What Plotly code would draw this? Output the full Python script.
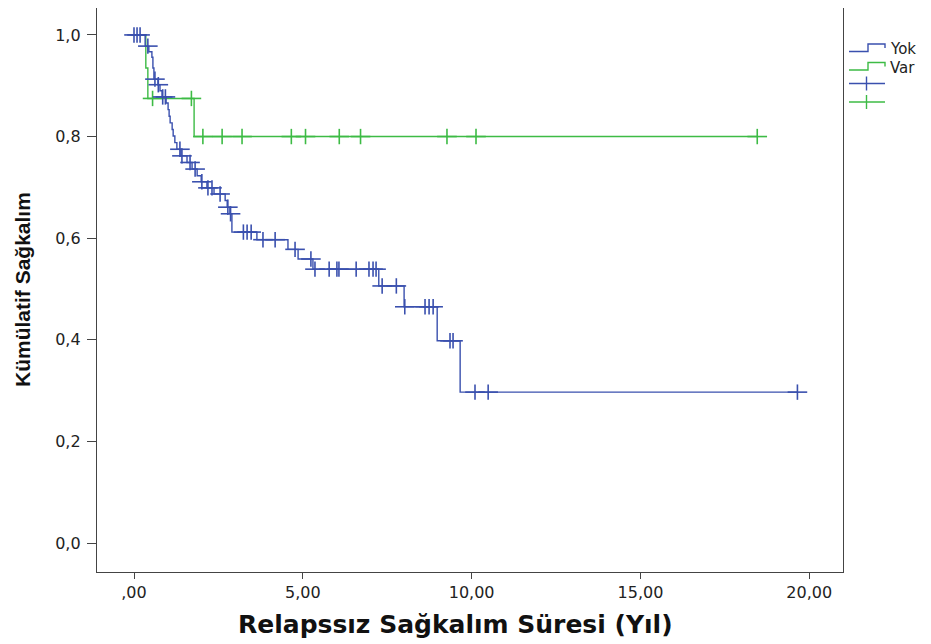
import plotly.graph_objects as go

# ---------------- data ----------------
blue_name = "Yok"
green_name = "Var"

blue_times = [0, 0.33, 0.44, 0.53, 0.56, 0.59, 0.71, 0.77, 0.83, 0.95, 1.01, 1.04, 1.07,
              1.13, 1.16, 1.21, 1.27, 1.39, 1.57, 1.72, 1.87, 1.99, 2.16, 2.37, 2.70,
              2.76, 2.84, 2.90, 3.64, 4.56, 4.86, 5.30, 7.25, 8.00, 8.98, 9.66, 19.65]
blue_surv = [1.0, 0.978, 0.967, 0.956, 0.935, 0.913, 0.902, 0.890, 0.878, 0.866, 0.853,
             0.840, 0.827, 0.814, 0.801, 0.788, 0.775, 0.762, 0.749, 0.736, 0.723, 0.711,
             0.699, 0.687, 0.674, 0.661, 0.648, 0.612, 0.597, 0.578, 0.559, 0.539, 0.506,
             0.465, 0.398, 0.297, 0.297]
blue_censor = [0.0, 0.09, 0.18, 0.41, 0.62, 0.72, 0.85, 0.93, 1.36, 1.42, 1.66, 1.81,
               2.01, 2.19, 2.31, 2.55, 2.78, 2.86, 3.24, 3.35, 3.47, 3.82, 4.18, 4.77,
               5.24, 5.36, 5.78, 6.01, 6.07, 6.58, 6.96, 7.08, 7.17, 7.35, 7.77, 8.02,
               8.62, 8.74, 8.86, 9.36, 9.45, 10.10, 10.49, 19.65]

green_times = [0, 0.35, 0.41, 1.78, 18.46]
green_surv = [1.0, 0.935, 0.875, 0.80, 0.80]
green_censor = [0.55, 1.70, 2.04, 2.61, 3.20, 4.66, 5.08, 6.08, 6.71, 9.27, 10.13, 18.46]

x_tickvals = [0, 5, 10, 15, 20]
x_ticktext = [",00", "5,00", "10,00", "15,00", "20,00"]
y_tickvals = [0.0, 0.2, 0.4, 0.6, 0.8, 1.0]
y_ticktext = ["0,0", "0,2", "0,4", "0,6", "0,8", "1,0"]

x_title = "Relapssız Sağkalım Süresi (Yıl)"
y_title = "Kümülatif Sağkalım"

# ---------------- styling ----------------
BLUE = "#3A50AE"
GREEN = "#3DBB45"
AX = "#444444"
OFF = 8                      # page offset of the figure inside the browser window
W, H = 931 - OFF, 644 - OFF
# plot area in window pixels
X0, X1, Y0, Y1 = 97, 843, 8, 572
L, R, T, B = X0 - OFF, W + OFF - X1, Y0 - OFF, H + OFF - Y1
PW, PH = X1 - X0, Y1 - Y0


def surv_at(times, surv, t):
    s = surv[0]
    for ti, si in zip(times, surv):
        if ti <= t:
            s = si
    return s


def px(xp):
    return (xp - X0) / PW


def py(yp):
    return (Y1 - yp) / PH


fig = go.Figure()

for times, surv, cens, col in [(green_times, green_surv, green_censor, GREEN),
                               (blue_times, blue_surv, blue_censor, BLUE)]:
    fig.add_trace(go.Scatter(x=times, y=surv, mode="lines", line=dict(color=col, width=1.4, shape="hv"),
                             showlegend=False, hoverinfo="skip"))
    cy = [surv_at(times, surv, t) for t in cens]
    fig.add_trace(go.Scatter(x=cens, y=cy, mode="markers", showlegend=False, hoverinfo="skip",
                             marker=dict(symbol="line-ew", size=14, color=col, line=dict(color=col, width=1.6))))
    fig.add_trace(go.Scatter(x=cens, y=cy, mode="markers", showlegend=False, hoverinfo="skip",
                             marker=dict(symbol="line-ns", size=11, color=col, line=dict(color=col, width=1.6))))

# ---------------- manual legend ----------------
shapes = []
leg = [(BLUE, 51.5, 44), (GREEN, 70, 62.5)]
for col, ylow, yhigh in leg:
    path = (f"M {px(849)} {py(ylow)} L {px(868)} {py(ylow)} L {px(868)} {py(yhigh)} "
            f"L {px(885)} {py(yhigh)} L {px(885)} {py(yhigh + 4)}")
    shapes.append(dict(type="path", path=path, xref="paper", yref="paper",
                       line=dict(color=col, width=1.4)))
for col, yc in [(BLUE, 83.5), (GREEN, 102)]:
    shapes.append(dict(type="line", xref="paper", yref="paper", x0=px(849), x1=px(885),
                       y0=py(yc), y1=py(yc), line=dict(color=col, width=1.4)))
    shapes.append(dict(type="line", xref="paper", yref="paper", x0=px(866.5), x1=px(866.5),
                       y0=py(yc - 7), y1=py(yc + 7), line=dict(color=col, width=1.4)))

annotations = [
    dict(text=blue_name, x=px(888), y=py(49), xref="paper", yref="paper", xanchor="left",
         yanchor="middle", showarrow=False, font=dict(family="DejaVu Sans", size=15, color="#222")),
    dict(text=green_name, x=px(888), y=py(68), xref="paper", yref="paper", xanchor="left",
         yanchor="middle", showarrow=False, font=dict(family="DejaVu Sans", size=15, color="#222")),
    dict(text=f"<b>{x_title}</b>", x=px(455), y=py(624), xref="paper", yref="paper",
         xanchor="center", yanchor="middle", showarrow=False,
         font=dict(family="DejaVu Sans", size=25, color="#111")),
    dict(text=f"<b>{y_title}</b>", x=px(22), y=py(290), xref="paper", yref="paper",
         xanchor="center", yanchor="middle", showarrow=False, textangle=-90,
         font=dict(family="Liberation Sans Narrow, Liberation Sans", size=21, color="#111")),
]

fig.update_layout(
    width=W, height=H,
    margin=dict(l=L, r=R, t=T, b=B, pad=0),
    paper_bgcolor="white", plot_bgcolor="white",
    shapes=shapes, annotations=annotations,
    xaxis=dict(range=[-1.096, 21.0], tickvals=x_tickvals, ticktext=x_ticktext,
               ticks="outside", ticklen=6, tickwidth=1.3, tickcolor=AX,
               showline=True, linecolor=AX, linewidth=1.3, mirror=True,
               showgrid=False, zeroline=False,
               tickfont=dict(family="DejaVu Sans", size=16, color="#222")),
    yaxis=dict(range=[-0.057, 1.053], tickvals=y_tickvals, ticktext=y_ticktext,
               ticks="outside", ticklen=9, tickwidth=1.3, tickcolor=AX,
               showline=True, linecolor=AX, linewidth=1.3, mirror=True,
               showgrid=False, zeroline=False, ticklabelstandoff=3,
               tickfont=dict(family="DejaVu Sans", size=16, color="#222")),
)

fig.write_html("out.html")
